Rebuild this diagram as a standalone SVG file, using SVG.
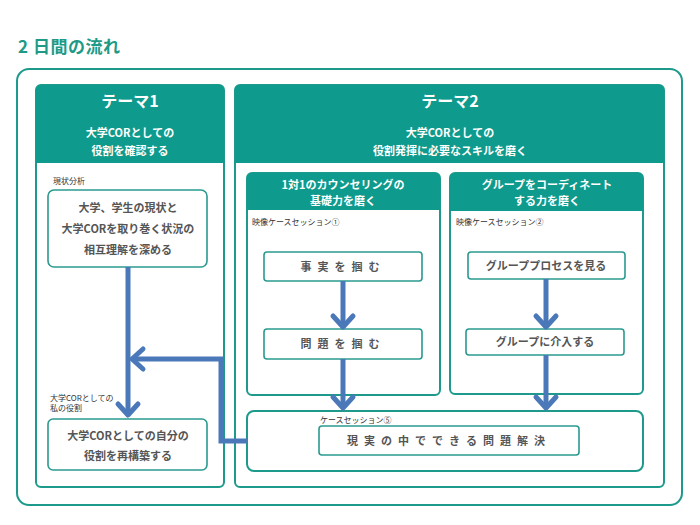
<svg xmlns="http://www.w3.org/2000/svg" width="700" height="525" viewBox="0 0 700 525">
<style>
text{font-family:"Noto Sans CJK JP","Noto Sans",sans-serif}
.frame{fill:#fff;stroke:#1e9a8c;stroke-width:2}
.hdr{fill:#0e9a8c}
.box{fill:#fff;stroke:#2a9a90;stroke-width:1.6}
.ht{fill:#fff;font-weight:bold;text-anchor:middle}
.bt{fill:#555;font-weight:bold;text-anchor:middle;font-size:11px}
.sm{fill:#333;font-size:8px}
.conn{fill:none;stroke:#4a78b8;stroke-width:5}
.head{fill:none;stroke:#4a78b8;stroke-width:5;stroke-linecap:round;stroke-linejoin:round}
</style>
<text x="18" y="53" font-size="17" font-weight="bold" fill="#1e9a87" letter-spacing="0.5">2 日間の流れ</text>
<rect class="frame" x="17" y="69" width="665" height="436" rx="12"/>
<g id="theme1">
<rect class="frame" x="36" y="85" width="188" height="402" rx="5"/>
<path class="hdr" d="M36 90 a5 5 0 0 1 5 -5 h178 a5 5 0 0 1 5 5 v73 h-188 z"/>
<text class="ht" x="130" y="107" font-size="16">テーマ1</text>
<text class="ht" x="130" y="137" font-size="11">大学CORとしての</text>
<text class="ht" x="130" y="155" font-size="11">役割を確認する</text>
<text class="sm" x="53" y="184">現状分析</text>
</g>
<g id="node-genjo">
<rect class="box" x="48" y="190" width="159" height="77" rx="6"/>
<text class="bt" x="128" y="212">大学、学生の現状と</text>
<text class="bt" x="128" y="233">大学CORを取り巻く状況の</text>
<text class="bt" x="128" y="254">相互理解を深める</text>
</g>
<g id="node-saikouchiku">
<text class="sm" x="50" y="401">大学CORとしての</text>
<text class="sm" x="50" y="411">私の役割</text>
<rect class="box" x="48" y="419" width="159" height="51" rx="5"/>
<text class="bt" x="128" y="440">大学CORとしての自分の</text>
<text class="bt" x="128" y="460">役割を再構築する</text>
</g>
<g id="theme2">
<rect class="frame" x="235" y="85" width="429" height="402" rx="5"/>
<path class="hdr" d="M235 90 a5 5 0 0 1 5 -5 h419 a5 5 0 0 1 5 5 v73 h-429 z"/>
<text class="ht" x="450" y="107" font-size="16">テーマ2</text>
<text class="ht" x="450" y="137" font-size="11">大学CORとしての</text>
<text class="ht" x="450" y="155" font-size="11">役割発揮に必要なスキルを磨く</text>
</g>
<g id="sub1">
<rect class="frame" x="247" y="173" width="193" height="222" rx="5"/>
<path class="hdr" d="M247 178 a5 5 0 0 1 5 -5 h183 a5 5 0 0 1 5 5 v32 h-193 z"/>
<text class="ht" x="343" y="189" font-size="11">1対1のカウンセリングの</text>
<text class="ht" x="343" y="205" font-size="11">基礎力を磨く</text>
<text class="sm" x="252" y="225">映像ケースセッション①</text>
</g>
<g id="sub2">
<rect class="frame" x="450" y="173" width="193" height="221" rx="5"/>
<path class="hdr" d="M450 178 a5 5 0 0 1 5 -5 h183 a5 5 0 0 1 5 5 v33 h-193 z"/>
<text class="ht" x="547" y="189" font-size="11">グループをコーディネート</text>
<text class="ht" x="547" y="205" font-size="11">する力を磨く</text>
<text class="sm" x="456" y="225">映像ケースセッション②</text>
</g>
<g id="node-jijitsu">
<rect class="box" x="264" y="252" width="158" height="29" rx="3"/>
<text class="bt" x="343" y="271" letter-spacing="6">事実を掴む</text>
</g>
<g id="node-mondai">
<rect class="box" x="264" y="329" width="158" height="30" rx="3"/>
<text class="bt" x="343" y="348" letter-spacing="6">問題を掴む</text>
</g>
<g id="node-process">
<rect class="box" x="468" y="252" width="157" height="27" rx="3"/>
<text class="bt" x="546" y="270">グループプロセスを見る</text>
</g>
<g id="node-kainyu">
<rect class="box" x="466" y="329" width="158" height="26" rx="3"/>
<text class="bt" x="545" y="346">グループに介入する</text>
</g>
<g id="node-case5">
<rect class="frame" x="247" y="411" width="396" height="60" rx="7"/>
<text class="sm" x="320" y="423">ケースセッション⑤</text>
<rect class="box" x="319" y="426" width="260" height="29" rx="3"/>
<text class="bt" x="449" y="445" letter-spacing="6">現実の中でできる問題解決</text>
</g>
<g id="connectors">
<path class="conn" d="M128 267 V414"/>
<path class="head" d="M118 404 L128 415 L138 404"/>
<path class="conn" d="M247 441 H221 V359 H133"/>
<path class="head" d="M143 349 L132 359 L143 369"/>
<path class="conn" d="M343 281 V326"/>
<path class="head" d="M333 316 L343 327 L353 316"/>
<path class="conn" d="M343 359 V407"/>
<path class="head" d="M333 397 L343 408 L353 397"/>
<path class="conn" d="M546 279 V326"/>
<path class="head" d="M536 316 L546 327 L556 316"/>
<path class="conn" d="M546 355 V407"/>
<path class="head" d="M536 397 L546 408 L556 397"/>
</g>
</svg>
